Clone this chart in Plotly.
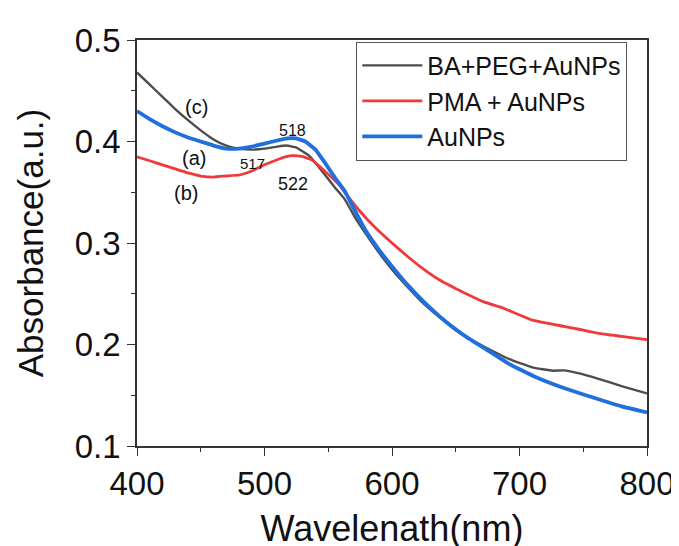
import plotly.graph_objects as go

# Wavelength (nm) / absorbance
wl_c = [400, 410, 420, 430, 440, 450, 460, 470, 480, 490, 500, 510, 517, 525, 535, 545,
        555, 563, 572, 580, 590, 600, 612, 625, 638, 650, 660, 672, 692, 710, 726, 735,
        745, 762, 780, 800]
abs_c = [0.468, 0.456, 0.444, 0.432, 0.421, 0.411, 0.402, 0.396, 0.393, 0.392, 0.393,
         0.395, 0.396, 0.394, 0.386, 0.371, 0.355, 0.343, 0.323, 0.308, 0.290, 0.274,
         0.257, 0.240, 0.226, 0.214, 0.206, 0.198, 0.1855, 0.1774, 0.1742, 0.1745,
         0.172, 0.1662, 0.159, 0.1518]

wl_b = [400, 410, 420, 430, 440, 450, 460, 470, 480, 490, 500, 510, 517, 522, 530, 537,
        548, 558, 566, 575, 587, 600, 612, 625, 638, 651, 672, 687, 710, 736, 762, 780, 800]
abs_b = [0.385, 0.381, 0.377, 0.373, 0.369, 0.366, 0.365, 0.366, 0.367, 0.371, 0.377,
         0.382, 0.385, 0.386, 0.385, 0.382, 0.370, 0.358, 0.345, 0.331, 0.315, 0.300,
         0.287, 0.274, 0.263, 0.2545, 0.242, 0.236, 0.224, 0.2176, 0.211, 0.208, 0.2048]

wl_a = [400, 410, 420, 430, 440, 450, 460, 470, 480, 490, 500, 510, 518, 525, 532, 540,
        548, 556, 563, 570, 579, 590, 600, 612, 625, 638, 651, 660, 672, 692, 713, 736,
        762, 780, 800]
abs_a = [0.430, 0.422, 0.415, 0.409, 0.404, 0.400, 0.396, 0.393, 0.393, 0.395, 0.398,
         0.401, 0.403, 0.403, 0.400, 0.392, 0.378, 0.363, 0.351, 0.334, 0.313, 0.293,
         0.277, 0.259, 0.242, 0.227, 0.214, 0.206, 0.1967, 0.1807, 0.1678, 0.1566,
         0.146, 0.139, 0.1331]

names = ["BA+PEG+AuNPs", "PMA + AuNPs", "AuNPs"]
colors = ["#4d4d4d", "#EE3A3A", "#1F6FDF"]
widths = [2.4, 2.8, 3.8]

x_ticks = [400, 500, 600, 700, 800]
y_ticks = [0.1, 0.2, 0.3, 0.4, 0.5]
y_ticklabels = ["0.1", "0.2", "0.3", "0.4", "0.5"]

labels = [("(c)", 446.5, 0.434, 20), ("(a)", 444.9, 0.3834, 20), ("(b)", 438.7, 0.349, 20),
          ("517", 490.6, 0.3786, 15), ("518", 522.0, 0.4104, 16), ("522", 522.0, 0.3583, 18)]

FONT = "Liberation Sans, Arial, sans-serif"

fig = go.Figure()
for xs, ys, n, c, w in [(wl_c, abs_c, names[0], colors[0], widths[0]),
                        (wl_b, abs_b, names[1], colors[1], widths[1]),
                        (wl_a, abs_a, names[2], colors[2], widths[2])]:
    fig.add_trace(go.Scatter(x=xs, y=ys, mode="lines", name=n,
                             line=dict(color=c, width=w, shape="spline", smoothing=0.3)))

for t, x, y, s in labels:
    fig.add_annotation(x=x, y=y, text=t, showarrow=False,
                       font=dict(family=FONT, size=s, color="#111"))

axis_common = dict(showline=True, linecolor="#333", linewidth=1.6, mirror=True,
                   ticks="outside", ticklen=8, tickwidth=1.4, tickcolor="#333",
                   showgrid=False, zeroline=False)

fig.update_xaxes(range=[400, 800], tickvals=x_ticks,
                 tickfont=dict(family=FONT, size=33, color="#111"),
                 minor=dict(dtick=50, ticks="outside", ticklen=4, tickcolor="#333", tickwidth=1.2),
                 title=dict(text="Wavelenath(nm)", font=dict(family=FONT, size=36, color="#111"),
                            standoff=14),
                 **axis_common)
fig.update_yaxes(range=[0.1, 0.5], tickvals=y_ticks, ticktext=y_ticklabels,
                 tickfont=dict(family=FONT, size=33, color="#111"),
                 minor=dict(dtick=0.05, ticks="outside", ticklen=4, tickcolor="#333", tickwidth=1.2),
                 title=dict(text="Absorbance(a.u.)", font=dict(family=FONT, size=35, color="#111"),
                            standoff=20),
                 **axis_common)

fig.update_layout(
    width=679, height=546,
    margin=dict(l=129, r=33, t=32, b=99),
    plot_bgcolor="white", paper_bgcolor="white",
    legend=dict(x=0.43, y=0.996, xanchor="left", yanchor="top",
                font=dict(family=FONT, size=25, color="#111"),
                bordercolor="#555", borderwidth=1, bgcolor="white",
                itemwidth=60, tracegroupgap=0),
)

fig.write_html("out.html")
